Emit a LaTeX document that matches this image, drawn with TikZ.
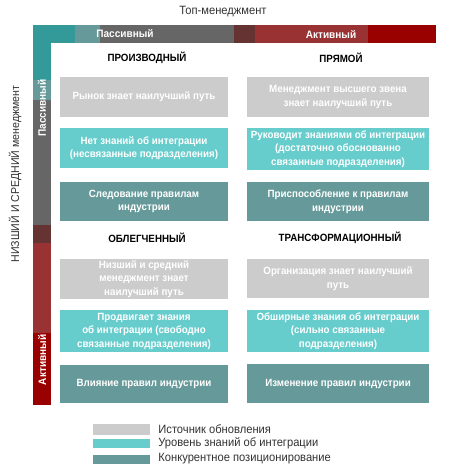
\documentclass[tikz,border=0pt]{standalone}
\usepackage{fontspec}
\setmainfont{Liberation Sans}[FakeStretch=0.93]
\usepackage{xcolor}
\usetikzlibrary{positioning}

\definecolor{cgray}{HTML}{CCCCCC}
\definecolor{cteal}{HTML}{66CCCC}
\definecolor{cdark}{HTML}{669999}
\definecolor{bteal}{HTML}{339999}
\definecolor{bmid}{HTML}{666666}
\definecolor{bbrown}{HTML}{663333}
\definecolor{bred}{HTML}{993333}
\definecolor{bdeep}{HTML}{990000}

\begin{document}
\begin{tikzpicture}[
  x=1pt,y=-1pt,
  font=\fontsize{12}{14}\selectfont,
  box/.style={minimum height=40,inner sep=0pt,align=center,text=white,font=\fontsize{10.5}{13.5}\selectfont\bfseries},
  lbox/.style={box,minimum width=168},
  rbox/.style={box,minimum width=182},
  head/.style={font=\fontsize{10.5}{12}\selectfont\bfseries},
  barlbl/.style={text=white,font=\fontsize{10.8}{12}\selectfont\bfseries,inner sep=0pt},
  swatch/.style={minimum width=57,minimum height=9,inner sep=0pt},
  legtext/.style={text=black!80,inner sep=0pt,anchor=west}
]
\useasboundingbox[fill=white] (0,0) rectangle (450,474);

% axis bars
\fill[bteal] (33,25) rectangle (75,43);
\fill[cdark] (75,25) rectangle (100,43);
\fill[bmid] (100,25) rectangle (234,43);
\fill[bbrown] (234,25) rectangle (255,43);
\fill[bred] (255,25) rectangle (368,43);
\fill[bdeep] (368,25) rectangle (436,43);
\fill[bteal] (33,25) rectangle (51,80);
\fill[cdark] (33,80) rectangle (51,100);
\fill[bmid] (33,100) rectangle (51,225);
\fill[bbrown] (33,225) rectangle (51,243);
\fill[bred] (33,243) rectangle (51,333);
\fill[bdeep] (33,333) rectangle (51,405);

\node[text=black!80,font=\fontsize{12}{14}\selectfont] (top) at (223,12) {Топ-менеджмент};
\node[text=black!80,rotate=90,font=\fontsize{11.4}{14}\selectfont] (side) at (15,174) {НИЗШИЙ И СРЕДНИЙ менеджмент};
\node[barlbl] (tpas) at (125,34) {Пассивный};
\node[barlbl] (tact) at (331,34) {Активный};
\node[barlbl,rotate=90] (spas) at (42,108) {Пассивный};
\node[barlbl,rotate=90] (sact) at (42,360) {Активный};

% quadrant headers
\node[head] (h1) at (147,58) {ПРОИЗВОДНЫЙ};
\node[head] (h2) at (341,58) {ПРЯМОЙ};
\node[head] (h3) at (147,238) {ОБЛЕГЧЕННЫЙ};
\node[head] (h4) at (340,238) {ТРАНСФОРМАЦИОННЫЙ};

% left column
\node[lbox,fill=cgray] (a1) at (144,97) {Рынок знает наилучший путь};
\node[lbox,fill=cteal] (a2) at (144,148) {Нет знаний об интеграции\\(несвязанные подразделения)};
\node[lbox,fill=cdark,minimum height=39] (a3) at (144,201.5) {Следование правилам\\индустрии};
\node[lbox,fill=cgray] (a4) at (144,279) {Низший и средний\\менеджмент знает\\наилучший путь};
\node[lbox,fill=cteal,minimum height=42] (a5) at (144,331) {Продвигает знания\\об интеграции (свободно\\связанные подразделения)};
\node[lbox,fill=cdark,minimum height=38] (a6) at (144,384) {Влияние правил индустрии};

% right column
\node[rbox,fill=cgray] (b1) at (338,97) {Менеджмент высшего звена\\знает наилучший путь};
\node[rbox,fill=cteal,minimum height=42] (b2) at (338,149) {Руководит знаниями об интеграции\\(достаточно обоснованно\\связанные подразделения)};
\node[rbox,fill=cdark,minimum height=39] (b3) at (338,201.5) {Приспособление к правилам\\индустрии};
\node[rbox,fill=cgray,minimum height=39] (b4) at (338,278.5) {Организация знает наилучший\\путь};
\node[rbox,fill=cteal,minimum height=42] (b5) at (338,331) {Обширные знания об интеграции\\(сильно связанные\\подразделения)};
\node[rbox,fill=cdark,minimum height=39] (b6) at (338,383.5) {Изменение правил индустрии};

% legend
\node[swatch,fill=cgray,minimum height=11] (s1) at (121.5,429.5) {};
\node[swatch,fill=cteal] (s2) at (121.5,443) {};
\node[swatch,fill=cdark] (s3) at (121.5,459) {};
\node[legtext,right=8pt of s1] (l1) {Источник обновления};
\node[legtext,right=8pt of s2] (l2) {Уровень знаний об интеграции};
\node[legtext,right=8pt of s3] (l3) {Конкурентное позиционирование};
\end{tikzpicture}
\end{document}
